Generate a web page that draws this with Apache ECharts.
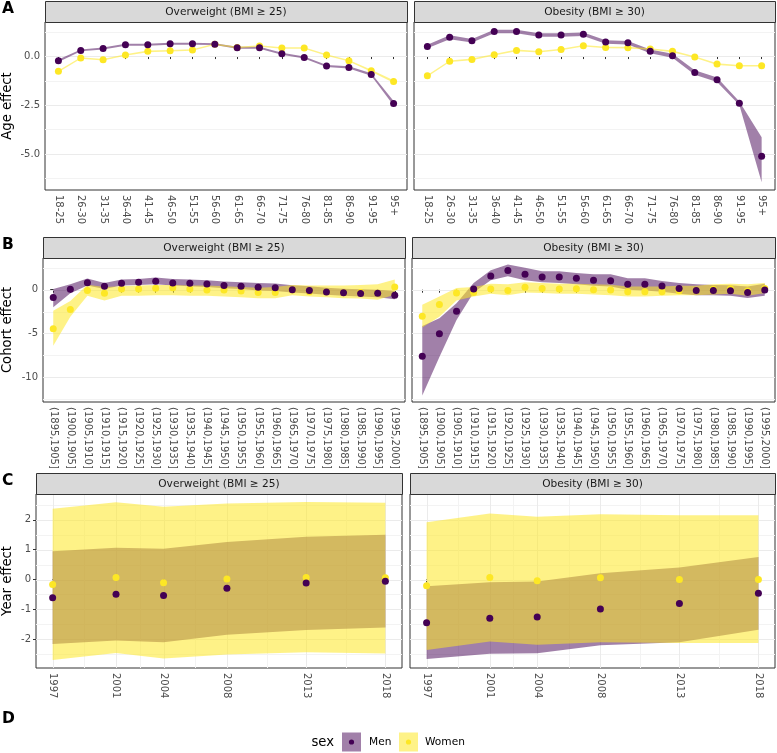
<!DOCTYPE html>
<html><head><meta charset="utf-8">
<script src="https://cdn.jsdelivr.net/npm/echarts@6/dist/echarts.min.js"></script>
<style>html,body{margin:0;padding:0;background:#fff}#c{width:777px;height:753px}</style>
</head><body><div id="c"></div>
<script>
// ---------- categories / tick labels ----------
const ageGroups = ['18-25','26-30','31-35','36-40','41-45','46-50','51-55','56-60','61-65','66-70','71-75','76-80','81-85','86-90','91-95','95+'];
const cohorts = ['(1895,1905]','(1900,1905]','(1905,1910]','(1910,1915]','(1915,1920]','(1920,1925]','(1925,1930]','(1930,1935]','(1935,1940]','(1940,1945]','(1945,1950]','(1950,1955]','(1955,1960]','(1960,1965]','(1965,1970]','(1970,1975]','(1975,1980]','(1980,1985]','(1985,1990]','(1990,1995]','(1995,2000]'];
const years = [1997, 2001, 2004, 2008, 2013, 2018];
const panelTitles = ['Overweight (BMI \u2265 25)', 'Obesity (BMI \u2265 30)'];

// ---------- A: age effect ----------
const ageOwMen     = [-0.24,0.29,0.39,0.58,0.58,0.63,0.63,0.61,0.43,0.43,0.12,-0.07,-0.51,-0.58,-0.94,-2.42];
const ageOwMenLo   = [-0.30,0.24,0.34,0.53,0.53,0.58,0.58,0.56,0.38,0.38,0.07,-0.12,-0.56,-0.64,-1.00,-2.52];
const ageOwMenHi   = [-0.18,0.34,0.44,0.63,0.63,0.68,0.68,0.66,0.48,0.48,0.17,-0.02,-0.46,-0.52,-0.88,-2.30];
const ageOwWomen   = [-0.78,-0.10,-0.19,0.05,0.24,0.27,0.31,0.60,0.44,0.51,0.41,0.41,0.05,-0.24,-0.75,-1.30];
const ageOwWomenLo = [-0.82,-0.14,-0.23,0.01,0.20,0.23,0.27,0.56,0.40,0.47,0.37,0.37,0.01,-0.28,-0.80,-1.36];
const ageOwWomenHi = [-0.74,-0.06,-0.15,0.09,0.28,0.31,0.35,0.64,0.48,0.55,0.45,0.45,0.09,-0.20,-0.70,-1.24];
const ageObMen     = [0.49,0.96,0.78,1.25,1.26,1.08,1.08,1.11,0.72,0.68,0.24,0.02,-0.84,-1.21,-2.41,-5.12];
const ageObMenLo   = [0.40,0.86,0.69,1.16,1.17,0.99,0.99,1.02,0.63,0.59,0.15,-0.08,-0.95,-1.33,-2.50,-6.45];
const ageObMenHi   = [0.58,1.06,0.87,1.34,1.35,1.17,1.17,1.20,0.81,0.77,0.33,0.12,-0.73,-1.09,-2.32,-4.15];
const ageObWomen   = [-1.01,-0.26,-0.17,0.07,0.29,0.22,0.34,0.53,0.44,0.43,0.36,0.24,-0.05,-0.41,-0.49,-0.49];
const ageObWomenLo = [-1.05,-0.30,-0.21,0.03,0.25,0.18,0.30,0.49,0.40,0.39,0.32,0.20,-0.09,-0.45,-0.53,-0.53];
const ageObWomenHi = [-0.97,-0.22,-0.13,0.11,0.33,0.26,0.38,0.57,0.48,0.47,0.40,0.28,-0.01,-0.37,-0.45,-0.45];

// ---------- B: cohort effect ----------
const cohOwMen     = [-0.89,0.04,0.81,0.39,0.74,0.85,0.97,0.78,0.74,0.66,0.47,0.39,0.27,0.23,0.00,-0.08,-0.27,-0.35,-0.43,-0.39,-0.62];
const cohOwMenLo   = [-2.00,-0.39,0.47,0.08,0.47,0.54,0.62,0.47,0.39,0.31,0.16,0.08,-0.08,-0.16,-0.31,-0.43,-0.58,-0.70,-0.78,-0.85,-1.09];
const cohOwMenHi   = [0.08,0.62,1.28,0.78,1.16,1.24,1.40,1.24,1.16,1.09,0.93,0.85,0.78,0.70,0.50,0.39,0.23,0.12,0.04,0.00,-0.16];
const cohOwWomen   = [-4.46,-2.25,-0.08,-0.39,0.08,0.08,0.16,0.23,0.08,-0.04,-0.04,-0.16,-0.31,-0.31,-0.04,-0.23,-0.27,-0.35,-0.31,-0.39,0.31];
const cohOwWomenLo = [-6.40,-3.10,-0.70,-1.24,-0.70,-0.70,-0.62,-0.62,-0.70,-0.70,-0.78,-0.85,-0.97,-0.97,-0.62,-0.78,-0.85,-0.97,-1.01,-1.16,-0.58];
const cohOwWomenHi = [-2.40,-1.28,0.58,0.31,0.39,0.47,0.54,0.54,0.47,0.47,0.39,0.31,0.23,0.31,0.54,0.47,0.47,0.47,0.54,0.62,1.16];
const cohObMen     = [-7.62,-5.04,-2.46,0.08,1.58,2.19,1.77,1.46,1.46,1.31,1.08,1.04,0.62,0.62,0.42,0.15,-0.08,-0.08,-0.12,-0.31,-0.04];
const cohObMenLo   = [-12.10,-7.69,-3.46,-0.31,1.08,1.54,1.08,0.85,0.77,0.62,0.46,0.38,0.00,-0.08,-0.23,-0.46,-0.62,-0.62,-0.69,-0.96,-0.69];
const cohObMenHi   = [-4.15,-3.27,-1.54,0.77,2.23,2.88,2.50,2.12,2.12,1.92,1.77,1.77,1.31,1.31,1.00,0.77,0.62,0.54,0.50,0.38,0.69];
const cohObWomen   = [-3.04,-1.69,-0.38,-0.31,0.08,-0.08,0.27,0.15,0.08,0.12,0.00,-0.04,-0.23,-0.23,-0.23,-0.12,-0.08,0.04,0.12,-0.15,0.15];
const cohObWomenLo = [-4.31,-3.08,-1.23,-0.77,-0.46,-0.62,-0.31,-0.38,-0.46,-0.46,-0.54,-0.62,-0.77,-0.77,-0.69,-0.62,-0.62,-0.54,-0.46,-0.69,-0.38];
const cohObWomenHi = [-1.73,-0.77,0.19,0.31,0.69,0.62,0.85,0.77,0.69,0.69,0.62,0.58,0.38,0.38,0.38,0.46,0.46,0.62,0.69,0.62,0.77];

// ---------- C: year effect ----------
const yrOwMen     = [-0.61,-0.49,-0.54,-0.29,-0.12,-0.06];
const yrOwMenLo   = [-2.16,-2.04,-2.10,-1.85,-1.69,-1.61];
const yrOwMenHi   = [0.95,1.06,1.03,1.26,1.43,1.50];
const yrOwWomen   = [-0.17,0.07,-0.11,0.02,0.07,0.06];
const yrOwWomenLo = [-2.70,-2.46,-2.65,-2.51,-2.44,-2.48];
const yrOwWomenHi = [2.37,2.59,2.44,2.55,2.60,2.57];
const yrObMen     = [-1.45,-1.30,-1.26,-0.99,-0.80,-0.46];
const yrObMenLo   = [-2.66,-2.49,-2.47,-2.20,-2.10,-1.68];
const yrObMenHi   = [-0.23,-0.09,-0.07,0.21,0.40,0.75];
const yrObWomen   = [-0.21,0.07,-0.04,0.06,0.00,0.00];
const yrObWomenLo = [-2.36,-2.08,-2.19,-2.10,-2.13,-2.13];
const yrObWomenHi = [1.92,2.21,2.10,2.19,2.15,2.15];

// ---------- grid lines (axis breaks) ----------
const ageYMajor = [-5, -2.5, 0], ageYMinor = [-6.25, -3.75, -1.25, 1.25];
const cohYMajor = [-10, -5, 0], cohYMinor = [-12.5, -7.5, -2.5, 2.5];
const yrYMajor = [-2, -1, 0, 1, 2], yrYMinor = [-2.5, -1.5, -0.5, 0.5, 1.5, 2.5];
const yrXMinor = [1999, 2002.5, 2006, 2010.5, 2015.5];

// ---------- styling ----------
const FONT = 'DejaVu Sans';
const MEN = '#440154', WOMEN = '#FDE725';
const MEN_FILL = 'rgba(68,1,84,0.5)', WOMEN_FILL = 'rgba(253,231,37,0.55)';
const BORDER = '#333333';

const ageIdx = ageGroups.map((_, i) => i);
const cohIdx = cohorts.map((_, i) => i);

// panels: [left, top, width, height]
const panels = [
  {box:[45,22,362,168],  xs:ageIdx, xmin:-0.6, xmax:15.6, ymin:-6.84, ymax:1.74, xlab:v=>ageGroups[Math.round(v)], ylab:v=>v.toFixed(1), yMaj:ageYMajor, yMin:ageYMinor, yTicks:ageYMajor, showY:true,
   d:[ageOwMen,ageOwMenLo,ageOwMenHi,ageOwWomen,ageOwWomenLo,ageOwWomenHi]},
  {box:[414,22,361,168], xs:ageIdx, xmin:-0.6, xmax:15.6, ymin:-6.84, ymax:1.74, xlab:v=>ageGroups[Math.round(v)], ylab:v=>v.toFixed(1), yMaj:ageYMajor, yMin:ageYMinor, yTicks:ageYMajor, showY:false,
   d:[ageObMen,ageObMenLo,ageObMenHi,ageObWomen,ageObWomenLo,ageObWomenHi]},
  {box:[43,258,362,144], xs:cohIdx, xmin:-0.6, xmax:20.6, ymin:-12.85, ymax:3.63, xlab:v=>cohorts[Math.round(v)], ylab:v=>String(v), yMaj:cohYMajor, yMin:cohYMinor, yTicks:cohYMajor, showY:true,
   d:[cohOwMen,cohOwMenLo,cohOwMenHi,cohOwWomen,cohOwWomenLo,cohOwWomenHi]},
  {box:[412,258,363,144], xs:cohIdx, xmin:-0.6, xmax:20.6, ymin:-12.85, ymax:3.63, xlab:v=>cohorts[Math.round(v)], ylab:v=>String(v), yMaj:cohYMajor, yMin:cohYMinor, yTicks:cohYMajor, showY:false,
   d:[cohObMen,cohObMenLo,cohObMenHi,cohObWomen,cohObWomenLo,cohObWomenHi]},
  {box:[36,494,366,174], xs:years, xmin:1995.95, xmax:2019.05, ymin:-2.965, ymax:2.865, xlab:v=>String(v), ylab:v=>String(v), yMaj:yrYMajor, yMin:yrYMinor, yTicks:yrYMajor, showY:true, xMaj:years, xMin:yrXMinor,
   d:[yrOwMen,yrOwMenLo,yrOwMenHi,yrOwWomen,yrOwWomenLo,yrOwWomenHi]},
  {box:[410,494,365,174], xs:years, xmin:1995.95, xmax:2019.05, ymin:-2.965, ymax:2.865, xlab:v=>String(v), ylab:v=>String(v), yMaj:yrYMajor, yMin:yrYMinor, yTicks:yrYMajor, showY:false, xMaj:years, xMin:yrXMinor,
   d:[yrObMen,yrObMenLo,yrObMenHi,yrObWomen,yrObWomenLo,yrObWomenHi]}
];

const grids = [], xAxes = [], yAxes = [], series = [], graphics = [];

function hLines(gi, vals, xref, color) {
  return {type:'custom', xAxisIndex:gi, yAxisIndex:gi, z:1, silent:true,
    data: vals.map(v => [xref, v]),
    renderItem: (params, api) => {
      const cs = params.coordSys;
      const p = api.coord([api.value(0), api.value(1)]);
      const y = Math.round(p[1]) + 0.5;
      return {type:'line', shape:{x1:cs.x, y1:y, x2:cs.x+cs.width, y2:y}, style:{stroke:color, lineWidth:1}};
    }};
}
function vLines(gi, vals, yref, color) {
  return {type:'custom', xAxisIndex:gi, yAxisIndex:gi, z:1, silent:true,
    data: vals.map(v => [v, yref]),
    renderItem: (params, api) => {
      const cs = params.coordSys;
      const p = api.coord([api.value(0), api.value(1)]);
      const x = Math.round(p[0]) + 0.5;
      return {type:'line', shape:{x1:x, y1:cs.y, x2:x, y2:cs.y+cs.height}, style:{stroke:color, lineWidth:1}};
    }};
}
function ribbon(gi, xs, lo, hi, fill, z) {
  return {type:'custom', xAxisIndex:gi, yAxisIndex:gi, z, silent:true,
    data: xs.map((x, i) => [x, lo[i], hi[i]]),
    encode: {x:0, y:[1,2]},
    renderItem: (params, api) => {
      if (params.dataIndex !== 0) return {type:'group', children:[]};
      const top = xs.map((x, i) => api.coord([x, hi[i]]));
      const bot = xs.map((x, i) => api.coord([x, lo[i]])).reverse();
      return {type:'polygon', shape:{points: top.concat(bot)}, style:{fill}};
    }};
}
function points(gi, xs, v, color, z) {
  return {type:'scatter', xAxisIndex:gi, yAxisIndex:gi, z, silent:true, symbolSize:7,
    itemStyle:{color, opacity:1}, data: xs.map((x, i) => [x, v[i]])};
}

panels.forEach((p, gi) => {
  const [l, t, w, h] = p.box;
  grids.push({left:l, top:t, width:w, height:h, show:true, borderColor:BORDER, borderWidth:1, backgroundColor:'#fff', containLabel:false});
  xAxes.push({gridIndex:gi, type:'value', min:p.xmin, max:p.xmax,
    axisLine:{show:false}, splitLine:{show:false},
    axisTick:{show:true, customValues:p.xs, length:3, lineStyle:{color:BORDER}},
    axisLabel:{show:true, customValues:p.xs, formatter:p.xlab, rotate:-90, fontSize:10, color:'#4d4d4d', fontFamily:FONT, margin:5}});
  yAxes.push({gridIndex:gi, type:'value', min:p.ymin, max:p.ymax,
    axisLine:{show:false}, splitLine:{show:false},
    axisTick:{show:p.showY, customValues:p.yTicks, length:3, lineStyle:{color:BORDER}},
    axisLabel:{show:p.showY, customValues:p.yTicks, formatter:p.ylab, fontSize:10, color:'#4d4d4d', fontFamily:FONT, margin:5}});
  series.push(hLines(gi, p.yMin, p.xs[0], '#f3f3f3'));
  series.push(hLines(gi, p.yMaj, p.xs[0], '#ebebeb'));
  if (p.xMaj) {
    series.push(vLines(gi, p.xMin, p.ymin, '#f3f3f3'));
    series.push(vLines(gi, p.xMaj, p.ymin, '#ebebeb'));
  }
  const d = p.d;
  series.push(ribbon(gi, p.xs, d[1], d[2], MEN_FILL, 2));
  series.push(ribbon(gi, p.xs, d[4], d[5], WOMEN_FILL, 3));
  series.push(points(gi, p.xs, d[3], WOMEN, 4));
  series.push(points(gi, p.xs, d[0], MEN, 5));
  // strip
  const sh = 21;
  graphics.push({type:'rect', shape:{x:l+0.5, y:t-sh+0.5, width:w, height:sh}, style:{fill:'#d9d9d9', stroke:BORDER, lineWidth:1}, z:10});
  graphics.push({type:'text', x:l+w/2, y:t-sh/2+0.5, style:{text:panelTitles[gi%2], fontSize:10.6, fontFamily:FONT, fill:'#1a1a1a', align:'center', verticalAlign:'middle'}, z:11});
});

// axis titles
[['Age effect',106],['Cohort effect',330],['Year effect',581]].forEach(([t, cy]) => {
  graphics.push({type:'text', x:7.5, y:cy, rotation:Math.PI/2, style:{text:t, fontSize:13.2, fontFamily:FONT, fill:'#000', align:'center', verticalAlign:'middle'}});
});
// panel letters
[['A',8.5],['B',244.5],['C',481],['D',719]].forEach(([t, cy]) => {
  graphics.push({type:'text', x:2, y:cy, style:{text:t, fontSize:15.5, fontWeight:'bold', fontFamily:FONT, fill:'#000', align:'left', verticalAlign:'middle'}});
});
// legend
graphics.push({type:'text', x:311.5, y:742.5, style:{text:'sex', fontSize:13.2, fontFamily:FONT, fill:'#000', align:'left', verticalAlign:'middle'}});
graphics.push({type:'rect', shape:{x:342, y:732.5, width:19, height:19}, style:{fill:MEN_FILL}});
graphics.push({type:'circle', shape:{cx:351.5, cy:742, r:2.6}, style:{fill:MEN}});
graphics.push({type:'text', x:369, y:742.5, style:{text:'Men', fontSize:10.6, fontFamily:FONT, fill:'#000', align:'left', verticalAlign:'middle'}});
graphics.push({type:'rect', shape:{x:399, y:732.5, width:19, height:19}, style:{fill:WOMEN_FILL}});
graphics.push({type:'circle', shape:{cx:408.5, cy:742, r:2.6}, style:{fill:WOMEN}});
graphics.push({type:'text', x:425, y:742.5, style:{text:'Women', fontSize:10.6, fontFamily:FONT, fill:'#000', align:'left', verticalAlign:'middle'}});

const chart = echarts.init(document.getElementById('c'), null, {renderer:'canvas'});
chart.setOption({
  animation:false, backgroundColor:'#fff',
  textStyle:{fontFamily:FONT},
  grid:grids, xAxis:xAxes, yAxis:yAxes, series, graphic:graphics
});
</script></body></html>
